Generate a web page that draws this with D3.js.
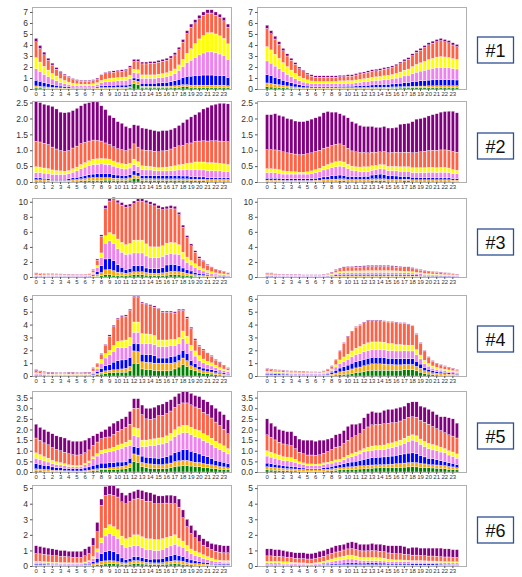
<!DOCTYPE html>
<html><head><meta charset="utf-8">
<script src="https://cdn.jsdelivr.net/npm/d3@7/dist/d3.min.js"></script>
<style>body{margin:0;background:#fff}svg{display:block}</style>
</head><body>
<script>
// ---------- DATA (48 half-hour bars per panel, 7 stacked series) ----------
const seriesNames = ["green","orange","blue","violet","yellow","tomato","purple"];
const seriesColors = ["#008000","#FFA500","#0000FF","#EE82EE","#FFFF00","#FF6347","#800080"];
const hourLabels = ["0","1","2","3","4","5","6","7","8","9","10","11","12","13","14","15","16","17","18","19","20","21","22","23"];
const panelLabels = ["#1","#2","#3","#4","#5","#6"];
const yMaxByRow = [7.45, 2.55, 10.5, 6.3, 3.81, 5.2];
const yTicksByRow = [[0,1,2,3,4,5,6,7],[0,0.5,1,1.5,2,2.5],[0,2,4,6,8,10],[0,1,2,3,4,5,6],[0,0.5,1,1.5,2,2.5,3,3.5],[0,1,2,3,4,5]];
const yFmtByRow = ["d",".1f","d","d",".1f","d"];

// Row 1 left
const r1L_green=[.1,.1,.08,.07,.06,.05,.04,.04,.03,.03,.03,.03,.03,.03,.03,.04,.05,.05,.05,.05,.06,.06,.06,.1,.5,.4,.1,.1,.1,.1,.1,.1,.1,.1,.12,.15,.2,.2,.15,.15,.15,.15,.15,.15,.15,.15,.15,.12];
const r1L_orange=[.18,.15,.13,.11,.09,.08,.06,.05,.05,.04,.04,.04,.04,.04,.05,.06,.08,.09,.09,.09,.1,.1,.1,.12,.3,.3,.15,.15,.15,.15,.15,.15,.16,.17,.18,.19,.2,.2,.2,.2,.2,.2,.2,.2,.2,.2,.2,.18];
const r1L_blue=[.52,.45,.38,.32,.26,.21,.17,.14,.11,.09,.08,.07,.07,.07,.08,.1,.15,.18,.2,.2,.2,.2,.2,.22,.2,.25,.28,.28,.28,.28,.3,.32,.35,.4,.45,.55,.65,.75,.82,.88,.9,.92,.92,.92,.9,.88,.85,.75];
const r1L_violet=[1.05,.9,.75,.62,.5,.42,.33,.27,.22,.18,.16,.15,.15,.15,.16,.2,.28,.33,.36,.38,.4,.42,.43,.5,.5,.5,.45,.45,.45,.45,.47,.5,.52,.58,.65,.8,1.0,1.25,1.45,1.65,1.85,2.0,2.1,2.1,2.05,1.95,1.85,1.65];
const r1L_yellow=[1.0,.85,.72,.6,.5,.42,.34,.28,.22,.18,.16,.15,.15,.15,.16,.18,.22,.25,.27,.28,.28,.29,.3,.32,.3,.3,.3,.3,.3,.3,.32,.33,.35,.38,.42,.5,.65,.85,1.05,1.25,1.45,1.6,1.75,1.75,1.7,1.65,1.55,1.4];
const r1L_tomato=[1.45,1.23,1.05,.88,.77,.62,.53,.46,.42,.34,.3,.28,.28,.28,.29,.33,.42,.49,.51,.53,.53,.55,.58,.69,.7,.75,1.0,1.0,1.05,1.05,1.09,1.12,1.14,1.18,1.28,1.39,1.56,1.79,1.95,1.88,1.85,1.83,1.78,1.78,1.7,1.67,1.6,1.52];
const r1L_purple=[.3,.27,.24,.2,.17,.15,.13,.11,.1,.09,.08,.08,.08,.08,.08,.09,.1,.11,.12,.12,.13,.13,.13,.15,.2,.2,.17,.17,.17,.17,.17,.18,.18,.19,.2,.22,.24,.26,.28,.29,.3,.3,.3,.3,.3,.3,.3,.28];
// Row 1 right
const r1R_green=[.2,.18,.16,.14,.12,.1,.08,.07,.06,.05,.05,.04,.04,.04,.04,.04,.04,.04,.05,.05,.05,.05,.05,.05,.05,.05,.06,.06,.06,.07,.07,.08,.08,.09,.1,.1,.12,.12,.13,.13,.14,.14,.15,.15,.15,.15,.15,.15];
const r1R_orange=[.35,.32,.28,.25,.21,.18,.15,.12,.1,.08,.07,.06,.06,.06,.06,.06,.06,.06,.07,.07,.07,.07,.08,.08,.09,.09,.09,.1,.1,.1,.1,.11,.11,.12,.12,.13,.13,.14,.14,.14,.15,.15,.15,.15,.15,.15,.15,.15];
const r1R_blue=[.75,.7,.62,.55,.47,.4,.33,.27,.22,.18,.15,.13,.12,.12,.12,.12,.12,.12,.13,.13,.14,.14,.15,.17,.19,.2,.22,.23,.24,.25,.26,.27,.3,.32,.35,.37,.42,.45,.48,.5,.52,.54,.55,.55,.55,.54,.53,.52];
const r1R_violet=[1.25,1.15,1.02,.9,.78,.66,.56,.47,.38,.32,.28,.26,.25,.25,.25,.25,.25,.25,.26,.26,.27,.27,.29,.31,.33,.35,.37,.39,.4,.42,.44,.46,.5,.55,.62,.66,.75,.82,.88,.94,1.0,1.05,1.1,1.12,1.1,1.08,1.03,1.0];
const r1R_yellow=[1.3,1.2,1.08,.95,.82,.7,.6,.5,.4,.34,.28,.24,.22,.22,.22,.22,.22,.22,.23,.23,.24,.24,.25,.27,.28,.3,.32,.33,.34,.36,.37,.39,.42,.46,.52,.55,.62,.7,.75,.8,.86,.9,.95,.98,.96,.94,.9,.87];
const r1R_tomato=[1.65,1.47,1.38,1.27,1.08,.96,.9,.81,.69,.59,.49,.44,.38,.38,.38,.38,.38,.38,.38,.38,.4,.4,.45,.49,.48,.53,.55,.55,.57,.61,.62,.65,.69,.76,.83,.88,.99,1.1,1.14,1.26,1.34,1.38,1.4,1.45,1.39,1.34,1.24,1.16];
const r1R_purple=[.3,.28,.26,.24,.22,.2,.18,.16,.15,.14,.13,.13,.13,.13,.13,.13,.13,.13,.13,.13,.13,.13,.13,.13,.13,.13,.14,.14,.14,.14,.14,.14,.15,.15,.16,.16,.17,.17,.18,.18,.19,.19,.2,.2,.2,.2,.2,.2];
// Row 2 left
const r2L_green=[.03,.03,.03,.03,.02,.02,.02,.02,.02,.03,.03,.04,.04,.05,.05,.05,.05,.06,.06,.05,.05,.05,.05,.06,.12,.1,.05,.05,.05,.05,.05,.05,.05,.05,.05,.05,.05,.05,.04,.04,.04,.04,.03,.03,.03,.03,.03,.03];
const r2L_orange=[.04,.04,.04,.03,.03,.03,.03,.03,.03,.04,.05,.06,.07,.08,.09,.09,.09,.08,.08,.07,.07,.06,.06,.07,.1,.09,.06,.06,.06,.05,.05,.05,.05,.05,.05,.05,.05,.05,.05,.05,.05,.05,.05,.05,.05,.05,.05,.05];
const r2L_blue=[.06,.06,.05,.05,.04,.04,.04,.04,.05,.06,.07,.08,.09,.1,.11,.12,.13,.13,.13,.12,.1,.1,.09,.1,.13,.1,.09,.09,.1,.1,.1,.1,.1,.1,.1,.1,.09,.09,.08,.08,.07,.07,.06,.06,.05,.05,.05,.05];
const r2L_violet=[.17,.17,.16,.16,.15,.15,.15,.15,.16,.18,.2,.24,.27,.29,.3,.3,.3,.29,.28,.26,.24,.22,.21,.21,.2,.2,.19,.18,.17,.16,.15,.15,.15,.16,.17,.18,.19,.2,.21,.22,.22,.22,.22,.22,.22,.22,.21,.2];
const r2L_yellow=[.18,.17,.16,.15,.14,.12,.11,.1,.1,.11,.12,.13,.14,.15,.17,.17,.17,.17,.17,.16,.15,.15,.15,.15,.17,.15,.12,.12,.11,.11,.1,.11,.12,.13,.14,.16,.18,.2,.22,.24,.25,.25,.25,.25,.25,.24,.23,.22];
const r2L_tomato=[.8,.79,.78,.76,.72,.68,.64,.62,.63,.65,.66,.66,.64,.62,.6,.58,.55,.5,.46,.45,.44,.44,.43,.45,.48,.46,.5,.5,.5,.5,.5,.52,.53,.55,.58,.6,.6,.62,.63,.65,.66,.67,.68,.69,.7,.7,.71,.72];
const r2L_purple=[1.27,1.24,1.23,1.24,1.28,1.26,1.21,1.22,1.21,1.18,1.19,1.19,1.22,1.21,1.23,1.21,1.11,1.05,.92,.91,.85,.83,.76,.66,.6,.68,.69,.68,.66,.65,.65,.64,.62,.61,.61,.64,.71,.76,.82,.84,.91,1.0,1.06,1.12,1.15,1.19,1.2,1.19];
// Row 2 right
const r2R_green=[.02,.02,.02,.02,.02,.02,.02,.02,.02,.02,.02,.02,.02,.02,.03,.03,.03,.03,.04,.04,.03,.03,.03,.03,.03,.03,.04,.04,.04,.04,.03,.03,.03,.03,.04,.04,.03,.03,.03,.03,.03,.03,.03,.03,.03,.03,.02,.02];
const r2R_orange=[.04,.04,.04,.04,.03,.03,.03,.03,.03,.03,.03,.03,.04,.04,.05,.05,.06,.06,.06,.06,.05,.05,.05,.05,.05,.05,.06,.06,.06,.06,.05,.05,.05,.05,.05,.05,.04,.04,.04,.04,.04,.04,.04,.04,.04,.04,.04,.04];
const r2R_blue=[.06,.06,.06,.06,.05,.05,.05,.05,.05,.05,.05,.06,.06,.07,.08,.09,.11,.12,.12,.11,.1,.09,.09,.09,.1,.1,.12,.13,.15,.14,.12,.12,.11,.1,.09,.09,.08,.08,.07,.07,.07,.07,.06,.06,.06,.06,.05,.05];
const r2R_violet=[.18,.18,.17,.16,.15,.15,.15,.15,.15,.15,.15,.16,.18,.2,.22,.24,.25,.27,.28,.27,.24,.2,.18,.16,.15,.15,.15,.16,.17,.17,.16,.16,.16,.16,.16,.16,.15,.15,.16,.16,.17,.17,.17,.18,.18,.17,.16,.15];
const r2R_yellow=[.12,.12,.12,.11,.1,.09,.08,.07,.06,.06,.07,.08,.09,.1,.12,.14,.15,.16,.16,.15,.14,.13,.13,.14,.15,.15,.14,.13,.13,.13,.13,.13,.14,.14,.14,.14,.15,.15,.15,.15,.15,.15,.15,.15,.15,.14,.12,.11];
const r2R_tomato=[.6,.6,.6,.6,.6,.58,.57,.56,.55,.56,.57,.57,.57,.57,.56,.55,.55,.55,.54,.52,.5,.48,.47,.46,.45,.44,.43,.42,.4,.42,.43,.44,.45,.45,.46,.46,.47,.48,.5,.52,.53,.54,.55,.55,.55,.56,.57,.57];
const r2R_purple=[1.1,1.1,1.14,1.11,1.12,1.08,1.08,1.04,1.04,1.03,1.04,1.06,1.06,1.07,1.12,1.12,1.05,1.01,.95,.95,.96,.92,.9,.85,.82,.83,.81,.78,.77,.79,.78,.77,.78,.89,.89,.91,.98,1.05,1.05,1.06,1.09,1.12,1.15,1.19,1.21,1.23,1.27,1.24];
// Row 3 left
const r3L_green=[.02,.02,.02,.02,.02,.02,.02,.02,.02,.02,.02,.02,.02,.02,.05,.1,.2,.3,.3,.25,.2,.2,.2,.25,.3,.3,.3,.25,.22,.2,.2,.2,.25,.3,.3,.28,.25,.2,.15,.12,.1,.08,.06,.05,.04,.03,.03,.02];
const r3L_orange=[.03,.03,.03,.03,.03,.03,.03,.03,.03,.03,.03,.03,.03,.04,.1,.25,.4,.65,.7,.6,.45,.4,.3,.35,.4,.4,.4,.35,.3,.3,.3,.35,.4,.45,.45,.42,.4,.3,.25,.2,.15,.12,.1,.08,.06,.05,.04,.04];
const r3L_blue=[.06,.05,.05,.05,.05,.05,.05,.05,.04,.04,.04,.04,.05,.06,.15,.4,.9,1.45,1.5,1.3,1.0,.7,.5,.55,.8,.8,.8,.6,.6,.6,.6,.7,.95,.95,.9,.8,.55,.45,.4,.3,.25,.2,.15,.12,.1,.08,.07,.06];
const r3L_violet=[.1,.09,.09,.08,.08,.08,.08,.08,.07,.07,.07,.07,.08,.09,.2,.5,1.1,2.1,2.3,2.3,2.1,2.0,2.0,1.9,1.7,1.7,1.7,1.6,1.5,1.5,1.5,1.5,1.4,1.4,1.4,1.5,1.2,1.0,.8,.65,.5,.4,.32,.25,.2,.17,.15,.12];
const r3L_yellow=[.06,.06,.05,.05,.05,.05,.05,.05,.05,.05,.05,.05,.05,.06,.1,.3,.6,1.0,1.1,1.2,1.3,1.3,1.3,1.4,1.7,1.7,1.7,1.6,1.4,1.4,1.4,1.4,1.5,1.5,1.5,1.3,.9,.7,.6,.5,.4,.3,.25,.2,.15,.13,.11,.09];
const r3L_tomato=[.2,.17,.16,.15,.15,.14,.13,.12,.12,.11,.11,.11,.13,.14,.3,.7,2.2,3.6,4.2,4.6,4.8,4.95,4.95,4.9,4.85,5.15,5.15,5.45,5.63,5.45,5.15,4.8,4.55,4.55,4.5,4.0,3.3,2.6,1.95,1.53,1.1,.95,.7,.55,.42,.37,.29,.22];
const r3L_purple=[.08,.08,.07,.07,.07,.06,.06,.05,.05,.05,.04,.04,.04,.04,.1,.15,.2,.4,.4,.35,.35,.35,.35,.35,.35,.35,.35,.35,.35,.35,.35,.35,.35,.35,.35,.3,.3,.25,.25,.2,.2,.15,.12,.1,.08,.07,.06,.05];
// Row 3 right
const r3R_green=[.02,.02,.02,.02,.02,.02,.02,.02,.02,.02,.02,.02,.02,.02,.02,.03,.04,.05,.05,.05,.05,.05,.05,.05,.05,.05,.05,.05,.05,.05,.05,.05,.05,.05,.05,.05,.05,.04,.04,.03,.03,.03,.03,.02,.02,.02,.02,.02];
const r3R_orange=[.04,.04,.03,.03,.03,.03,.03,.03,.03,.03,.03,.03,.03,.03,.03,.04,.06,.08,.1,.1,.1,.1,.1,.1,.1,.1,.1,.1,.1,.1,.1,.1,.1,.1,.1,.1,.09,.08,.07,.06,.06,.05,.05,.05,.04,.04,.03,.03];
const r3R_blue=[.07,.07,.05,.05,.05,.05,.04,.04,.04,.04,.04,.04,.04,.04,.05,.06,.1,.15,.18,.2,.2,.2,.2,.2,.2,.2,.2,.2,.2,.2,.2,.2,.2,.19,.18,.18,.17,.15,.13,.11,.1,.09,.08,.08,.07,.07,.06,.05];
const r3R_violet=[.1,.1,.08,.08,.07,.07,.07,.07,.07,.06,.06,.06,.06,.06,.07,.08,.12,.18,.22,.24,.25,.25,.26,.26,.27,.28,.28,.28,.28,.28,.28,.27,.26,.25,.24,.24,.22,.2,.18,.16,.14,.13,.12,.11,.1,.1,.08,.07];
const r3R_yellow=[.07,.07,.05,.05,.05,.05,.05,.05,.05,.04,.04,.04,.04,.04,.05,.06,.09,.14,.17,.19,.2,.2,.2,.2,.21,.22,.22,.22,.22,.22,.22,.21,.2,.2,.19,.19,.17,.15,.14,.12,.11,.1,.1,.09,.08,.07,.06,.06];
const r3R_tomato=[.18,.18,.13,.12,.11,.11,.1,.1,.09,.09,.09,.08,.08,.09,.11,.12,.16,.3,.36,.44,.46,.46,.5,.5,.52,.55,.55,.55,.55,.55,.55,.52,.5,.47,.46,.46,.43,.37,.34,.33,.28,.27,.25,.23,.23,.19,.15,.12];
const r3R_purple=[.07,.07,.06,.05,.05,.05,.05,.05,.05,.05,.05,.05,.05,.05,.05,.06,.08,.1,.12,.13,.14,.14,.14,.14,.15,.15,.15,.15,.15,.15,.15,.15,.14,.14,.13,.13,.12,.11,.1,.09,.08,.08,.07,.07,.06,.06,.05,.05];
// Row 4 left
const r4L_green=[.02,.02,.02,.01,.01,.01,.01,.01,.01,.01,.01,.01,.02,.02,.05,.1,.15,.2,.25,.28,.3,.3,.3,.4,1.0,.95,.55,.52,.5,.45,.4,.4,.4,.45,.55,.7,.9,.75,.5,.4,.3,.22,.18,.15,.1,.08,.06,.05];
const r4L_orange=[.03,.03,.02,.02,.02,.02,.02,.02,.02,.02,.02,.02,.02,.02,.05,.1,.15,.2,.2,.2,.2,.25,.3,.35,.95,.95,.55,.55,.55,.55,.6,.6,.6,.55,.5,.5,.5,.45,.3,.25,.2,.18,.17,.16,.15,.1,.08,.07];
const r4L_blue=[.05,.04,.04,.03,.03,.03,.03,.03,.03,.03,.03,.03,.03,.03,.08,.15,.3,.4,.45,.6,.7,.7,.7,.7,.6,.6,.6,.6,.6,.6,.4,.4,.4,.5,.5,.5,.6,.55,.4,.3,.25,.22,.2,.17,.15,.12,.1,.08];
const r4L_violet=[.1,.08,.07,.06,.06,.06,.06,.06,.06,.06,.06,.06,.06,.06,.12,.2,.4,.6,.75,.85,1.0,.95,.9,.9,.85,.9,.85,.85,.85,.85,.9,.9,.9,.85,.8,.8,.9,.8,.8,.6,.45,.4,.35,.3,.25,.2,.18,.15];
const r4L_yellow=[.05,.04,.04,.03,.03,.03,.03,.03,.03,.03,.03,.03,.03,.03,.08,.15,.3,.35,.35,.45,.5,.55,.6,.65,.8,.8,.75,.75,.75,.7,.5,.5,.5,.5,.5,.5,.6,.55,.4,.4,.4,.3,.25,.25,.2,.15,.12,.1];
const r4L_tomato=[.17,.13,.11,.1,.1,.08,.07,.07,.1,.1,.08,.08,.09,.09,.22,.24,.38,.62,1.1,1.47,1.7,1.85,1.85,2.1,1.9,1.9,2.35,2.28,2.2,2.2,2.35,2.15,2.15,2.1,2.05,2.1,1.6,1.4,1.3,.85,.72,.7,.58,.5,.39,.39,.26,.15];
const r4L_purple=[.08,.06,.05,.05,.05,.05,.05,.05,.05,.05,.05,.05,.05,.05,.05,.06,.07,.08,.1,.1,.1,.1,.1,.1,.1,.1,.1,.1,.1,.1,.1,.1,.1,.1,.1,.1,.1,.1,.1,.1,.08,.08,.07,.07,.06,.06,.05,.05];
// Row 4 right
const r4R_green=[.03,.03,.02,.02,.02,.02,.02,.02,.02,.02,.02,.02,.02,.02,.02,.03,.05,.08,.1,.12,.15,.2,.25,.3,.35,.4,.45,.45,.45,.45,.45,.45,.45,.45,.5,.5,.5,.4,.3,.2,.15,.1,.08,.07,.06,.05,.05,.04];
const r4R_orange=[.07,.06,.06,.05,.05,.05,.04,.04,.04,.04,.04,.04,.04,.04,.05,.07,.1,.15,.22,.26,.3,.35,.38,.4,.45,.48,.5,.5,.5,.48,.45,.45,.42,.42,.4,.4,.4,.35,.3,.22,.18,.15,.13,.12,.11,.1,.09,.08];
const r4R_blue=[.1,.1,.09,.09,.08,.08,.07,.07,.07,.07,.06,.06,.06,.06,.07,.1,.15,.22,.3,.35,.4,.45,.48,.5,.5,.5,.5,.5,.5,.5,.48,.48,.48,.48,.46,.45,.45,.4,.33,.25,.2,.16,.14,.12,.11,.1,.09,.08];
const r4R_violet=[.1,.1,.09,.09,.09,.08,.08,.08,.08,.07,.07,.07,.07,.07,.08,.1,.15,.25,.35,.4,.45,.5,.55,.55,.58,.6,.6,.6,.6,.6,.6,.6,.6,.6,.6,.6,.6,.5,.4,.3,.24,.2,.17,.15,.14,.12,.1,.09];
const r4R_yellow=[.08,.07,.07,.07,.06,.06,.06,.06,.05,.05,.05,.05,.05,.05,.06,.07,.1,.18,.28,.35,.4,.45,.5,.55,.58,.6,.6,.6,.6,.6,.55,.55,.5,.5,.45,.45,.45,.4,.3,.25,.2,.17,.15,.12,.11,.1,.08,.07];
const r4R_tomato=[.17,.14,.12,.12,.11,.09,.09,.09,.08,.08,.07,.05,.05,.04,.08,.14,.2,.37,.7,1.07,1.35,1.5,1.64,1.65,1.69,1.72,1.65,1.65,1.65,1.62,1.67,1.67,1.7,1.65,1.69,1.6,1.5,1.2,.92,.73,.48,.38,.29,.28,.23,.19,.15,.1];
const r4R_purple=[.05,.05,.05,.04,.04,.04,.04,.04,.04,.04,.04,.04,.04,.04,.04,.04,.05,.05,.05,.05,.05,.05,.05,.05,.05,.05,.05,.05,.05,.05,.05,.05,.05,.05,.05,.05,.05,.05,.05,.05,.05,.04,.04,.04,.04,.04,.04,.04];
// Row 5 left
const r5L_green=[.05,.05,.04,.04,.03,.03,.03,.02,.02,.02,.02,.02,.03,.04,.06,.08,.1,.1,.12,.12,.13,.14,.15,.2,.5,.45,.25,.2,.18,.16,.15,.15,.18,.2,.25,.28,.3,.3,.28,.26,.25,.22,.2,.18,.15,.13,.12,.1];
const r5L_orange=[.1,.09,.08,.07,.06,.05,.05,.04,.04,.03,.03,.03,.04,.05,.06,.07,.08,.08,.08,.1,.12,.13,.15,.2,.35,.35,.2,.2,.2,.2,.2,.2,.2,.22,.24,.25,.25,.25,.22,.2,.2,.18,.17,.16,.15,.13,.12,.1];
const r5L_blue=[.25,.22,.2,.18,.15,.13,.12,.11,.1,.1,.1,.1,.12,.15,.2,.22,.24,.24,.25,.22,.22,.2,.2,.25,.35,.35,.3,.3,.3,.3,.3,.32,.35,.38,.42,.45,.5,.5,.48,.45,.4,.38,.35,.3,.25,.25,.22,.2];
const r5L_violet=[.25,.23,.2,.18,.16,.14,.13,.12,.1,.1,.1,.12,.15,.2,.3,.38,.45,.5,.5,.55,.6,.65,.7,.6,.5,.5,.45,.5,.55,.6,.65,.65,.65,.7,.75,.8,.8,.8,.78,.75,.75,.7,.68,.65,.6,.55,.5,.45];
const r5L_yellow=[.25,.23,.2,.18,.15,.13,.11,.1,.08,.07,.05,.05,.07,.08,.1,.12,.15,.15,.15,.18,.2,.2,.2,.25,.4,.4,.3,.3,.3,.3,.3,.3,.32,.32,.33,.35,.35,.35,.35,.35,.35,.33,.32,.3,.3,.28,.27,.25];
const r5L_tomato=[.7,.67,.65,.63,.6,.58,.56,.54,.52,.5,.5,.5,.5,.52,.53,.54,.55,.55,.55,.6,.65,.68,.7,.75,.9,.95,1.2,1.0,.95,.95,1.05,1.05,1.05,1.05,1.05,1.05,1.05,1.05,1.05,1.05,1.05,1.0,.98,.95,.9,.85,.78,.7];
const r5L_purple=[.65,.61,.63,.62,.65,.64,.65,.67,.64,.63,.65,.63,.59,.56,.45,.39,.33,.38,.5,.53,.48,.5,.5,.6,.45,.45,.45,.5,.52,.54,.5,.53,.55,.53,.51,.52,.55,.55,.54,.54,.55,.59,.6,.61,.65,.66,.69,.65];
// Row 5 right
const r5R_green=[.1,.09,.08,.07,.06,.06,.05,.05,.04,.04,.03,.03,.03,.03,.04,.05,.06,.08,.1,.1,.12,.12,.13,.14,.15,.17,.18,.19,.2,.2,.2,.2,.21,.22,.23,.24,.25,.24,.22,.21,.2,.19,.18,.16,.15,.13,.12,.1];
const r5R_orange=[.15,.14,.13,.12,.11,.1,.1,.09,.08,.08,.07,.07,.07,.07,.08,.08,.09,.1,.1,.11,.12,.13,.14,.15,.15,.15,.15,.15,.15,.15,.16,.17,.18,.18,.19,.2,.2,.2,.18,.17,.15,.15,.15,.15,.15,.13,.12,.1];
const r5R_blue=[.17,.16,.15,.14,.12,.12,.12,.1,.08,.07,.05,.05,.05,.06,.08,.1,.12,.14,.15,.18,.2,.22,.24,.26,.3,.32,.34,.35,.35,.36,.38,.38,.4,.42,.43,.45,.45,.43,.38,.33,.3,.28,.25,.22,.2,.18,.17,.15];
const r5R_violet=[.33,.31,.29,.27,.25,.25,.24,.22,.18,.16,.15,.15,.15,.15,.15,.15,.15,.15,.15,.18,.22,.25,.28,.3,.35,.35,.35,.35,.35,.36,.38,.4,.42,.45,.5,.55,.6,.58,.52,.48,.45,.42,.42,.41,.4,.36,.33,.3];
const r5R_yellow=[.25,.23,.21,.2,.18,.17,.17,.14,.1,.08,.08,.08,.07,.07,.08,.08,.09,.1,.1,.12,.13,.14,.14,.15,.15,.18,.2,.2,.2,.2,.22,.22,.22,.23,.24,.25,.25,.25,.25,.25,.25,.25,.24,.23,.2,.2,.2,.2];
const r5R_tomato=[.75,.7,.65,.6,.6,.58,.56,.5,.45,.43,.42,.42,.42,.43,.45,.5,.55,.6,.6,.65,.7,.75,.78,.8,.9,.95,1.0,1.0,1.0,1.0,.95,.95,.9,.9,.88,.88,.85,.88,.88,.9,.9,.85,.8,.78,.75,.75,.75,.75];
const r5R_purple=[.75,.67,.64,.6,.63,.62,.66,.6,.62,.64,.7,.7,.66,.69,.62,.59,.54,.58,.6,.61,.66,.64,.54,.5,.55,.63,.63,.56,.55,.63,.66,.63,.67,.65,.63,.68,.7,.72,.67,.71,.7,.71,.66,.65,.75,.8,.81,.7];
// Row 6 left
const r6L_green=[.03,.03,.03,.02,.02,.02,.02,.02,.02,.02,.02,.02,.03,.04,.06,.08,.1,.13,.15,.15,.13,.1,.1,.12,.15,.15,.13,.12,.1,.1,.1,.1,.12,.13,.15,.13,.1,.08,.07,.06,.05,.05,.04,.04,.03,.03,.03,.03];
const r6L_orange=[.05,.05,.05,.04,.04,.04,.03,.03,.03,.03,.03,.03,.04,.05,.08,.12,.2,.2,.2,.18,.15,.12,.1,.15,.2,.2,.15,.12,.12,.1,.1,.12,.15,.18,.2,.2,.2,.15,.12,.1,.1,.08,.07,.06,.06,.05,.05,.05];
const r6L_blue=[.07,.07,.06,.06,.05,.05,.05,.05,.05,.05,.05,.05,.06,.08,.15,.3,.5,.6,.65,.6,.5,.3,.2,.22,.25,.25,.25,.22,.22,.25,.25,.28,.32,.35,.4,.35,.3,.25,.2,.17,.15,.12,.1,.08,.07,.07,.07,.07];
const r6L_violet=[.1,.1,.09,.09,.08,.08,.07,.07,.06,.05,.05,.05,.07,.1,.2,.4,.7,1.0,1.1,1.05,1.0,.85,.8,.75,.7,.7,.65,.6,.6,.55,.55,.58,.6,.63,.65,.6,.6,.5,.4,.35,.3,.25,.2,.15,.12,.12,.1,.1];
const r6L_yellow=[.05,.05,.05,.05,.05,.05,.05,.05,.05,.05,.05,.05,.06,.08,.12,.2,.3,.5,.55,.55,.55,.55,.55,.6,.7,.7,.7,.7,.7,.7,.7,.68,.65,.62,.6,.5,.4,.35,.3,.28,.25,.22,.2,.18,.12,.1,.1,.1];
const r6L_tomato=[.5,.48,.47,.45,.43,.42,.4,.4,.38,.36,.35,.35,.4,.45,.7,1.1,2.1,2.1,1.95,2.0,2.1,2.2,2.25,2.3,2.3,2.35,2.4,2.4,2.4,2.3,2.3,2.25,2.2,2.1,2.0,2.0,1.5,1.2,1.0,.85,.7,.62,.58,.55,.55,.52,.5,.5];
const r6L_purple=[.5,.47,.45,.44,.43,.39,.38,.38,.36,.39,.4,.4,.44,.45,.49,.6,.4,.57,.6,.62,.57,.58,.55,.56,.5,.55,.57,.59,.56,.6,.5,.49,.51,.54,.5,.52,.5,.47,.51,.49,.45,.41,.41,.39,.45,.46,.45,.45];
// Row 6 right
const r6R_green=[.02,.02,.02,.02,.02,.02,.02,.02,.02,.02,.02,.02,.02,.02,.02,.02,.03,.03,.03,.03,.03,.03,.03,.03,.03,.03,.03,.03,.03,.03,.03,.03,.03,.03,.03,.03,.02,.02,.02,.02,.02,.02,.02,.02,.02,.02,.02,.02];
const r6R_orange=[.03,.03,.03,.03,.03,.03,.02,.02,.02,.02,.02,.02,.02,.02,.03,.03,.04,.04,.05,.05,.05,.05,.05,.05,.05,.05,.05,.05,.05,.05,.04,.04,.04,.04,.04,.04,.04,.04,.04,.04,.04,.04,.03,.03,.03,.03,.03,.03];
const r6R_blue=[.05,.05,.05,.05,.04,.04,.04,.03,.03,.03,.03,.03,.04,.05,.06,.07,.08,.09,.1,.11,.12,.12,.12,.11,.11,.12,.12,.12,.11,.11,.1,.1,.1,.1,.1,.09,.09,.09,.09,.09,.08,.08,.08,.07,.06,.06,.05,.05];
const r6R_violet=[.1,.1,.1,.1,.09,.09,.08,.07,.06,.06,.05,.05,.06,.08,.1,.13,.15,.18,.2,.22,.25,.25,.22,.18,.16,.15,.15,.15,.14,.13,.12,.12,.12,.12,.11,.11,.1,.1,.1,.1,.1,.1,.1,.1,.1,.1,.1,.1];
const r6R_yellow=[.1,.1,.1,.1,.09,.09,.08,.08,.07,.07,.06,.06,.07,.08,.1,.13,.15,.18,.2,.22,.25,.25,.22,.2,.2,.2,.2,.2,.2,.18,.15,.12,.1,.1,.1,.1,.1,.1,.1,.08,.08,.08,.08,.08,.07,.07,.07,.07];
const r6R_tomato=[.35,.35,.33,.33,.32,.3,.3,.28,.28,.28,.27,.27,.28,.3,.32,.34,.36,.38,.38,.4,.4,.42,.42,.42,.42,.43,.45,.43,.42,.42,.4,.4,.4,.4,.38,.36,.35,.35,.33,.33,.32,.32,.32,.3,.3,.3,.28,.28];
const r6R_purple=[.45,.45,.42,.42,.41,.38,.36,.35,.37,.37,.35,.35,.36,.4,.37,.38,.39,.4,.39,.37,.4,.43,.44,.41,.43,.42,.45,.42,.45,.43,.46,.49,.51,.51,.49,.42,.5,.5,.47,.49,.51,.51,.52,.55,.52,.52,.5,.5];

// panels assembled from the named arrays
const panels = [
  [[r1L_green,r1L_orange,r1L_blue,r1L_violet,r1L_yellow,r1L_tomato,r1L_purple],[r1R_green,r1R_orange,r1R_blue,r1R_violet,r1R_yellow,r1R_tomato,r1R_purple]],
  [[r2L_green,r2L_orange,r2L_blue,r2L_violet,r2L_yellow,r2L_tomato,r2L_purple],[r2R_green,r2R_orange,r2R_blue,r2R_violet,r2R_yellow,r2R_tomato,r2R_purple]],
  [[r3L_green,r3L_orange,r3L_blue,r3L_violet,r3L_yellow,r3L_tomato,r3L_purple],[r3R_green,r3R_orange,r3R_blue,r3R_violet,r3R_yellow,r3R_tomato,r3R_purple]],
  [[r4L_green,r4L_orange,r4L_blue,r4L_violet,r4L_yellow,r4L_tomato,r4L_purple],[r4R_green,r4R_orange,r4R_blue,r4R_violet,r4R_yellow,r4R_tomato,r4R_purple]],
  [[r5L_green,r5L_orange,r5L_blue,r5L_violet,r5L_yellow,r5L_tomato,r5L_purple],[r5R_green,r5R_orange,r5R_blue,r5R_violet,r5R_yellow,r5R_tomato,r5R_purple]],
  [[r6L_green,r6L_orange,r6L_blue,r6L_violet,r6L_yellow,r6L_tomato,r6L_purple],[r6R_green,r6R_orange,r6R_blue,r6R_violet,r6R_yellow,r6R_tomato,r6R_purple]]
];

// ---------- LAYOUT ----------
const W = 522, H = 577;
const rowFrames = [[7,89],[101,182],[198,277],[295,376],[391,472],[485,566]];
const colFrames = [{x0:32,x1:232,po:0.6},{x0:257,x1:467,po:2.1}];
const labelBoxes = [50,146,242,339,436,530];

const svg = d3.select("body").append("svg").attr("width",W).attr("height",H)
  .style("font-family","'DejaVu Sans', sans-serif");

const barIdx = d3.range(48);

panels.forEach((row, r) => {
  const [yTop, yBot] = rowFrames[r];
  const y = d3.scaleLinear().domain([0, yMaxByRow[r]]).range([yBot, yTop]);
  row.forEach((ser, c) => {
    const cf = colFrames[c];
    const x = d3.scaleBand().domain(barIdx).range([cf.x0, cf.x1]).paddingInner(0.2).paddingOuter(cf.po);
    const g = svg.append("g");
    const table = barIdx.map(i => { const o = {i}; seriesNames.forEach((s,k)=> o[s] = ser[k][i]); return o; });
    const stacked = d3.stack().keys(seriesNames)(table);
    g.selectAll("g.layer").data(stacked).join("g").attr("class","layer")
      .attr("fill",(d,k)=>seriesColors[k])
      .selectAll("rect").data(d=>d).join("rect")
      .attr("x",d=>x(d.data.i)).attr("width",x.bandwidth())
      .attr("y",d=>y(d[1])).attr("height",d=>Math.max(0,y(d[0])-y(d[1])))
      .attr("stroke","#fff").attr("stroke-width",0.35);
    // frame
    g.append("rect").attr("x",cf.x0+0.5).attr("y",yTop+0.5).attr("width",cf.x1-cf.x0-1).attr("height",yBot-yTop)
      .attr("fill","none").attr("stroke","#b0b0b0").attr("stroke-width",1);
    // y axis
    const ya = d3.axisLeft(y).tickValues(yTicksByRow[r]).tickFormat(d3.format(yFmtByRow[r])).tickSize(2.5).tickPadding(2);
    const yg = g.append("g").attr("transform",`translate(${cf.x0+0.5},0)`).call(ya);
    yg.select(".domain").remove();
    yg.selectAll("text").attr("font-size","8.5px").attr("fill","#333");
    yg.selectAll("line").attr("stroke","#555");
    // x axis labels
    const xa = d3.axisBottom(x).tickValues(barIdx.filter(i=>i%2===0)).tickFormat(i=>hourLabels[i/2]).tickSize(2).tickPadding(1);
    const xg = g.append("g").attr("transform",`translate(0,${yBot})`).call(xa);
    xg.select(".domain").remove();
    xg.selectAll("text").attr("font-size","6px").attr("fill","#333");
    xg.selectAll("line").attr("stroke","#555");
  });
  // right label box
  const cy = labelBoxes[r];
  svg.append("rect").attr("x",477.5).attr("y",cy-13).attr("width",36).attr("height",26)
    .attr("fill","#fff").attr("stroke","#2F4F8F").attr("stroke-width",1.3);
  svg.append("text").attr("x",495.5).attr("y",cy+6.5).attr("text-anchor","middle")
    .attr("font-family","'Liberation Sans', Arial, sans-serif").attr("font-size","18px").attr("fill","#111")
    .text(panelLabels[r]);
});
</script>
</body></html>
